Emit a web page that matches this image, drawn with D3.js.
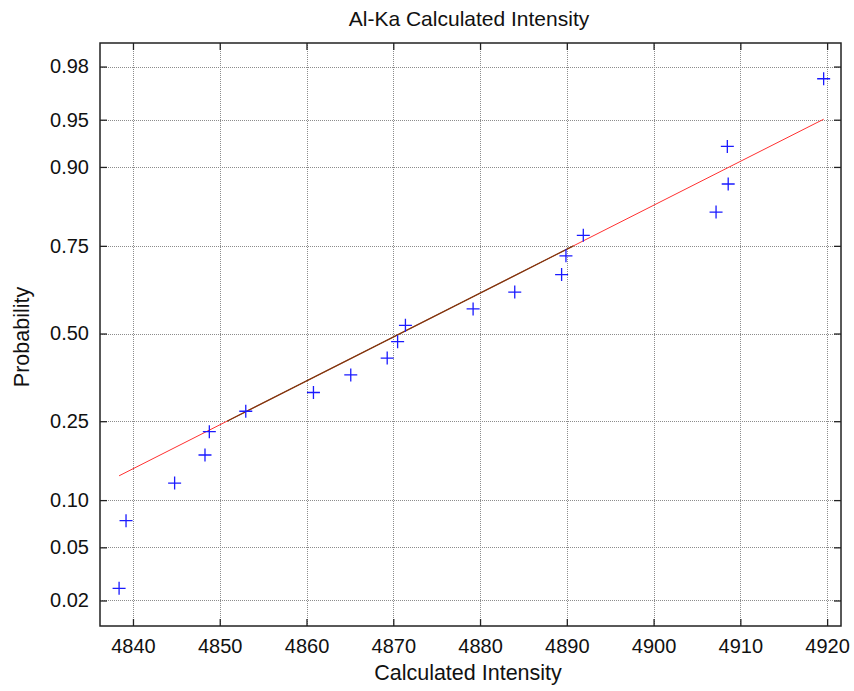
<!DOCTYPE html>
<html>
<head>
<meta charset="utf-8">
<script src="https://cdn.jsdelivr.net/npm/d3@7"></script>
<style>
  body { margin: 0; background: #fff; }
  text { font-family: "Liberation Sans", Arial, sans-serif; fill: #111; }
</style>
</head>
<body>
<svg width="854" height="691"></svg>
<script>
// measured intensities, sorted, and their plotting probabilities
const intensity = [4838.4, 4839.2, 4844.8, 4848.3, 4848.8, 4853.0, 4860.8, 4865.1, 4869.3, 4870.5,
                   4871.4, 4879.2, 4884.0, 4889.4, 4889.9, 4891.9, 4907.2, 4908.6, 4908.5, 4919.6];
const probability = [0.025, 0.075, 0.125, 0.175, 0.225, 0.275, 0.325, 0.375, 0.425, 0.475,
                     0.525, 0.575, 0.625, 0.675, 0.725, 0.775, 0.825, 0.875, 0.925, 0.975];
const xTicks = [4840, 4850, 4860, 4870, 4880, 4890, 4900, 4910, 4920];
const yTicks = [0.02, 0.05, 0.10, 0.25, 0.50, 0.75, 0.90, 0.95, 0.98];
// fitted normal
const fitMu = 4870.8;
const fitSigma = 29.6;

// inverse normal cdf (Acklam)
function probit(p) {
  const a = [-39.69683028665376, 220.9460984245205, -275.9285104469687, 138.3577518672690, -30.66479806614716, 2.506628277459239];
  const b = [-54.47609879822406, 161.5858368580409, -155.6989798598866, 66.80131188771972, -13.28068155288572];
  const c = [-0.007784894002430293, -0.3223964580411365, -2.400758277161838, -2.549732539343734, 4.374664141464968, 2.938163982698783];
  const d = [0.007784695709041462, 0.3224671290700398, 2.445134137142996, 3.754408661907416];
  const pl = 0.02425;
  let q, r;
  if (p < pl) {
    q = Math.sqrt(-2 * Math.log(p));
    return (((((c[0]*q+c[1])*q+c[2])*q+c[3])*q+c[4])*q+c[5]) / ((((d[0]*q+d[1])*q+d[2])*q+d[3])*q+1);
  } else if (p <= 1 - pl) {
    q = p - 0.5; r = q * q;
    return (((((a[0]*r+a[1])*r+a[2])*r+a[3])*r+a[4])*r+a[5])*q / (((((b[0]*r+b[1])*r+b[2])*r+b[3])*r+b[4])*r+1);
  } else {
    q = Math.sqrt(-2 * Math.log(1 - p));
    return -(((((c[0]*q+c[1])*q+c[2])*q+c[3])*q+c[4])*q+c[5]) / ((((d[0]*q+d[1])*q+d[2])*q+d[3])*q+1);
  }
}

const margin = { top: 43, right: 13, bottom: 65, left: 100 };
const width = 854, height = 691;
const iw = width - margin.left - margin.right;
const ih = height - margin.top - margin.bottom;

const svg = d3.select("svg");
const g = svg.append("g").attr("transform", `translate(${margin.left},${margin.top})`);

const x = d3.scaleLinear().domain([4836.2, 4921.6]).range([0, iw]);
const z = d3.scaleLinear().domain([-2.25, 2.235]).range([ih, 0]);
const y = p => z(probit(p));

// grid
const grid = g.append("g").attr("stroke", "#8c8c8c").attr("stroke-dasharray", "1,1").attr("stroke-width", 1);
grid.selectAll(".gx").data(xTicks).join("line")
  .attr("x1", d => Math.round(x(d)) + 0.5).attr("x2", d => Math.round(x(d)) + 0.5)
  .attr("y1", 0).attr("y2", ih);
grid.selectAll(".gy").data(yTicks).join("line")
  .attr("y1", d => Math.round(y(d)) + 0.5).attr("y2", d => Math.round(y(d)) + 0.5)
  .attr("x1", 0).attr("x2", iw);

// axes with inward ticks on all sides
const tickLen = 7;
const xb = g.append("g").attr("transform", `translate(0,${ih})`)
  .call(d3.axisBottom(x).tickValues(xTicks).tickSize(-tickLen).tickPadding(13).tickFormat(d3.format("d")));
const xt = g.append("g")
  .call(d3.axisTop(x).tickValues(xTicks).tickSize(-tickLen).tickFormat(""));
const yl = g.append("g")
  .call(d3.axisLeft(z).tickValues(yTicks.map(probit)).tickSize(-tickLen).tickPadding(11)
    .tickFormat((d, i) => d3.format(".2f")(yTicks[i])));
const yr = g.append("g").attr("transform", `translate(${iw},0)`)
  .call(d3.axisRight(z).tickValues(yTicks.map(probit)).tickSize(-tickLen).tickFormat(""));

[xb, xt, yl, yr].forEach(a => {
  a.select(".domain").remove();
  a.selectAll(".tick line").attr("stroke", "#222").attr("stroke-width", 1.3);
  a.selectAll("text").attr("font-size", 20).attr("fill", "#111");
});

// frame
g.append("rect").attr("width", iw).attr("height", ih)
  .attr("fill", "none").attr("stroke", "#222").attr("stroke-width", 1.5);

// fitted line across data range
const lo = d3.min(intensity), hi = d3.max(intensity);
const fitZ = v => (v - fitMu) / fitSigma;
g.append("line")
  .attr("x1", x(lo)).attr("y1", z(fitZ(lo)))
  .attr("x2", x(hi)).attr("y2", z(fitZ(hi)))
  .attr("stroke", "#ff3030").attr("stroke-width", 1);
// quartile segment
const q1 = fitMu + probit(0.25) * fitSigma, q3 = fitMu + probit(0.75) * fitSigma;
g.append("line")
  .attr("x1", x(q1)).attr("y1", y(0.25))
  .attr("x2", x(q3)).attr("y2", y(0.75))
  .attr("stroke", "#7a3a10").attr("stroke-width", 1.2);

// data markers
const s = 6.5;
const marks = g.append("g").attr("stroke", "#1a1aff").attr("stroke-width", 1.3);
marks.selectAll("path").data(intensity).join("path")
  .attr("d", (d, i) => {
    const cx = x(d), cy = y(probability[i]);
    return `M${cx - s},${cy}H${cx + s}M${cx},${cy - s}V${cy + s}`;
  });

// labels
svg.append("text").attr("x", 469).attr("y", 26)
  .attr("text-anchor", "middle").attr("font-size", 21).text("Al-Ka Calculated Intensity");
svg.append("text").attr("x", 468).attr("y", 680)
  .attr("text-anchor", "middle").attr("font-size", 21.5).text("Calculated Intensity");
svg.append("text").attr("transform", `translate(29,337) rotate(-90)`)
  .attr("text-anchor", "middle").attr("font-size", 21.5).text("Probability");
</script>
</body>
</html>
